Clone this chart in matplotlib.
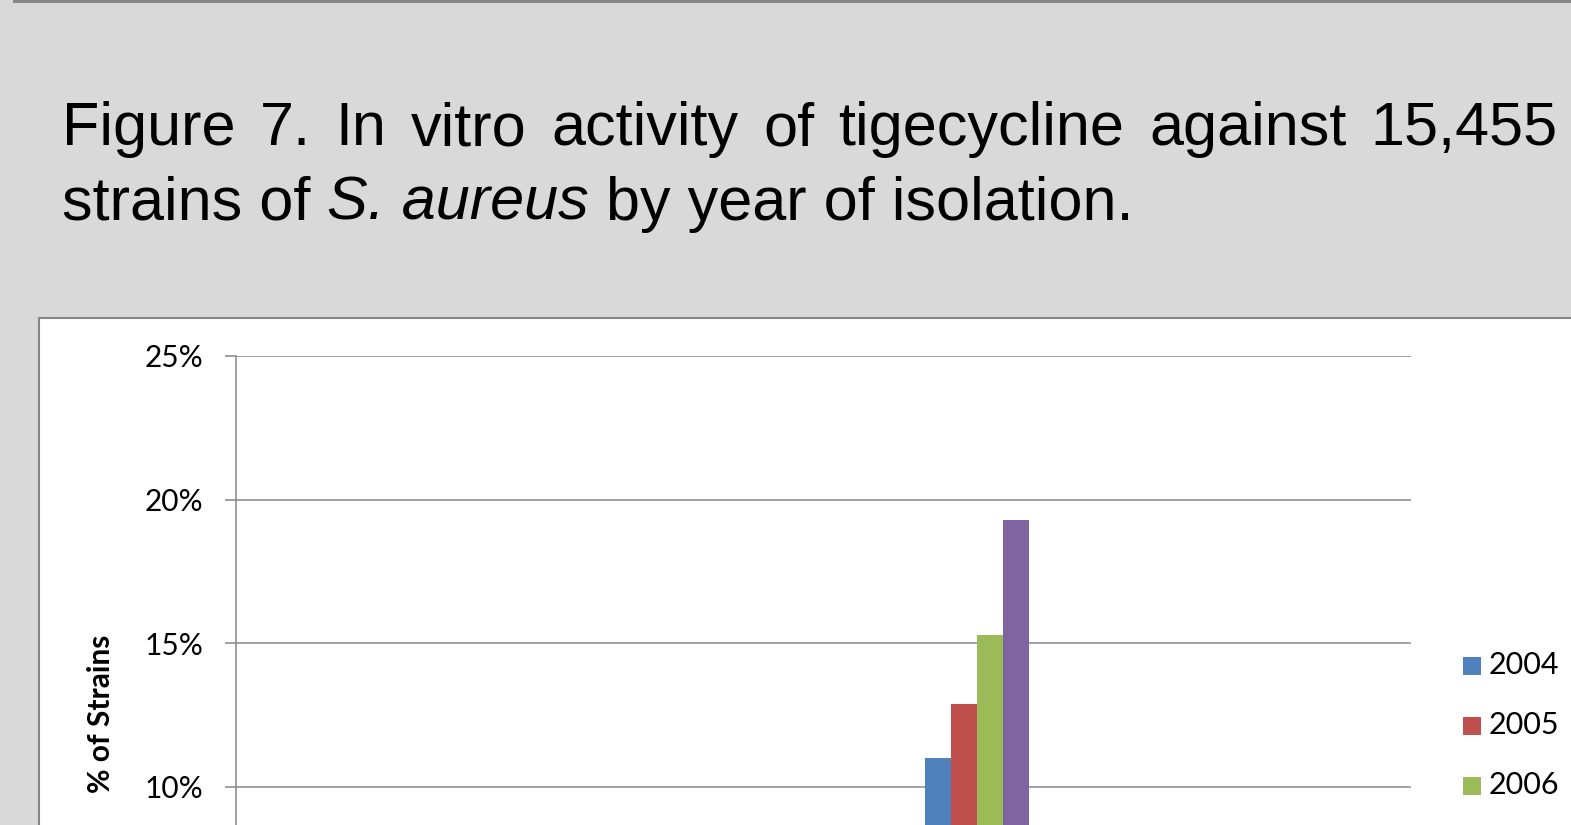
import matplotlib
matplotlib.use("Agg")
import matplotlib.pyplot as plt
from matplotlib.patches import Rectangle
from matplotlib.ticker import FuncFormatter, MultipleLocator

W, H, DPI = 1571, 825, 100

# --- data (only the visible category group of the cropped chart) ---
years = ["2004", "2005", "2006", "2007"]
pct_strains = [11.0, 12.9, 15.3, 19.3]
year_colors = ["#4F81BD", "#C0504D", "#9BBB59", "#8064A2"]

SLIDE_BG = "#D9D9D9"
LINE_GRAY = "#868686"
CHART_FONT = "Lato"
TITLE_FONT = "Liberation Sans"


def fx(px):
    return px / W


def fy(py):
    return 1 - py / H


fig = plt.figure(figsize=(W / DPI, H / DPI), dpi=DPI, facecolor=SLIDE_BG)
renderer = fig.canvas.get_renderer()

# rule at the very top of the slide
fig.add_artist(Rectangle((fx(13), fy(3)), 1.0, 0.05, transform=fig.transFigure,
                         facecolor="#878787", edgecolor="none", zorder=-2))
# white chart frame (runs off the right and bottom edges)
fig.add_artist(Rectangle((fx(39), -0.3), 1.0, fy(318) + 0.3, transform=fig.transFigure,
                         facecolor="white", edgecolor=LINE_GRAY, linewidth=1.5, zorder=-1))


# --- title: first line justified, second line with italic species name ---
def width_px(txt):
    return txt.get_window_extent(renderer).width


line1 = "Figure 7. In vitro activity of tigecycline against 15,455".split()
title_kw = dict(fontsize=44, family=TITLE_FONT, color="black", va="baseline", ha="left")
words = [fig.text(0, fy(145), w, **title_kw) for w in line1]
total = sum(width_px(t) for t in words)
left, right = 62, 1558
gap = (right - left - total) / (len(words) - 1)
x = left
for t in words:
    t.set_x(fx(x))
    x += width_px(t) + gap

x = 62
for piece, style in [("strains of ", "normal"), ("S. aureus", "italic"),
                     (" by year of isolation.", "normal")]:
    t = fig.text(fx(x), fy(220), piece, style=style, **title_kw)
    x += width_px(t)

# --- chart axes: 0 % baseline lies below the crop ---
ax_left, ax_right, ax_top, ax_zero = 235.5, 1410.7, 356, 1074
ax = fig.add_axes([fx(ax_left), fy(ax_zero), (ax_right - ax_left) / W, (ax_zero - ax_top) / H])
ax.patch.set_visible(False)

bar_w = 0.2
for i, (yr, val, col) in enumerate(zip(years, pct_strains, year_colors)):
    ax.bar((i - 1.5) * bar_w, val, width=bar_w, color=col, edgecolor="none", zorder=3, label=yr)

ax.set_xlim(-5.704, 3.336)
ax.set_ylim(0, 25)
ax.yaxis.set_major_locator(MultipleLocator(5))
ax.yaxis.set_major_formatter(FuncFormatter(lambda v, _: f"{v:.0f}%"))
ax.grid(axis="y", color=LINE_GRAY, linewidth=1.1, zorder=0)
ax.set_xticks([])
for side in ["top", "right", "bottom"]:
    ax.spines[side].set_visible(False)
ax.spines["left"].set_color(LINE_GRAY)
ax.spines["left"].set_linewidth(1.1)
ax.tick_params(axis="y", length=8, width=1.1, color=LINE_GRAY, pad=15,
               labelsize=21.5, labelcolor="black")
for lab in ax.get_yticklabels():
    lab.set_family(CHART_FONT)

fig.text(fx(101), fy(714), "% of Strains", rotation=90, ha="center", va="center",
         fontsize=21.5, weight="bold", family=CHART_FONT)

# --- legend on the right, one entry every 60 px ---
for i, (yr, col) in enumerate(zip(years, year_colors)):
    cy = 665.5 + i * 60
    fig.add_artist(Rectangle((fx(1463), fy(cy + 9)), 18 / W, 18 / H,
                             transform=fig.transFigure, facecolor=col, edgecolor="none"))
    fig.text(fx(1489), fy(cy), yr, ha="left", va="center", fontsize=22, family=CHART_FONT)

fig.savefig("out.png", dpi=DPI, facecolor=SLIDE_BG)
